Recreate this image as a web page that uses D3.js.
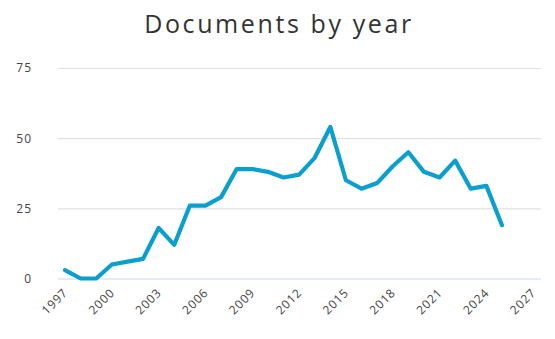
<!DOCTYPE html>
<html>
<head>
<meta charset="utf-8">
<script src="https://cdn.jsdelivr.net/npm/d3@7"></script>
<style>
  html, body { margin: 0; padding: 0; background: #fff; }
  svg { display: block; font-family: "Open Sans", "Noto Sans", sans-serif; }
</style>
</head>
<body>
<svg id="chart" width="555" height="339"></svg>
<script>
// Documents published per year
const years = [1997, 1998, 1999, 2000, 2001, 2002, 2003, 2004, 2005, 2006, 2007, 2008, 2009, 2010,
  2011, 2012, 2013, 2014, 2015, 2016, 2017, 2018, 2019, 2020, 2021, 2022, 2023, 2024, 2025];
const documents = [3, 0, 0, 5, 6, 7, 18, 12, 26, 26, 29, 39, 39, 38,
  36, 37, 43, 54, 35, 32, 34, 40, 45, 38, 36, 42, 32, 33, 19];
const xTicks = [1997, 2000, 2003, 2006, 2009, 2012, 2015, 2018, 2021, 2024, 2027];
const yTicks = [0, 25, 50, 75];
const title = "Documents by year";

const svg = d3.select("#chart");
const margin = { left: 58, right: 14, top: 68, bottom: 61 };
const W = 555, H = 339;

const x = d3.scaleLinear()
  .domain([1996.55, 2027.5])
  .range([margin.left, W - margin.right]);
const y = d3.scaleLinear()
  .domain([0, 75])
  .range([H - margin.bottom + 0.5, margin.top]);

// Title
svg.append("text")
  .attr("x", W / 2 + 1.5)
  .attr("y", 33)
  .attr("text-anchor", "middle")
  .attr("fill", "#333")
  .style("font-size", "25px")
  .style("letter-spacing", "2.6px")
  .text(title);

// Horizontal gridlines and y labels
const yAxis = d3.axisLeft(y).tickValues(yTicks)
  .tickSize(-(W - margin.left - margin.right)).tickPadding(26);
const gy = svg.append("g")
  .attr("transform", `translate(${margin.left},0)`)
  .call(yAxis);
gy.select(".domain").remove();
gy.selectAll(".tick line")
  .attr("stroke", d => d === 0 ? "#ccd6eb" : "#e0e0e0")
  .attr("stroke-width", 1.2);
gy.selectAll(".tick text")
  .attr("fill", "#444")
  .style("font-size", "12px")
  .style("letter-spacing", "1px")
  .style("font-family", "\"Open Sans\", sans-serif");

// X axis labels, rotated
const xAxis = d3.axisBottom(x).tickValues(xTicks).tickFormat(d3.format("d")).tickSize(0);
const gx = svg.append("g")
  .attr("transform", `translate(0,${y(0)})`)
  .call(xAxis);
gx.select(".domain").remove();
gx.selectAll(".tick text")
  .attr("fill", "#444")
  .attr("text-anchor", "end")
  .attr("dy", null)
  .attr("y", 0)
  .attr("transform", "translate(3,15) rotate(-45)")
  .style("font-size", "12px")
  .style("letter-spacing", "0.8px")
  .style("font-family", "\"Open Sans\", sans-serif");

// Series line
const line = d3.line()
  .x((d, i) => x(years[i]))
  .y(d => y(d));
svg.append("path")
  .datum(documents)
  .attr("fill", "none")
  .attr("stroke", "#0a9fcf")
  .attr("stroke-width", 4.2)
  .attr("stroke-linejoin", "round")
  .attr("stroke-linecap", "round")
  .attr("d", line);
</script>
</body>
</html>
